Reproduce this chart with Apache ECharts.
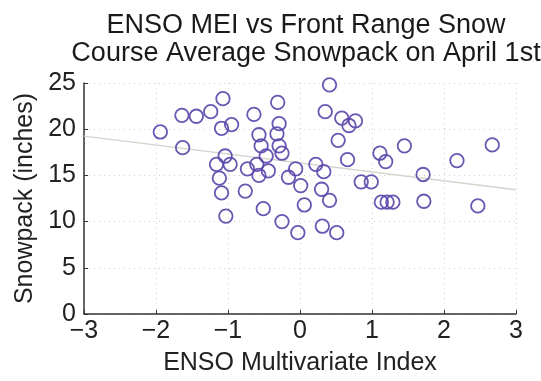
<!DOCTYPE html>
<html>
<head>
<meta charset="utf-8">
<script src="https://cdn.jsdelivr.net/npm/echarts@6/dist/echarts.min.js"></script>
<style>html,body{margin:0;padding:0;background:#fff;}#c{width:541px;height:381px;}</style>
</head>
<body>
<div id="c"></div>
<script>
const titleLines = ['ENSO MEI vs Front Range Snow', 'Course Average Snowpack on April 1st'];
const xAxisName = 'ENSO Multivariate Index';
const yAxisName = 'Snowpack (inches)';
const meiValues = [
  -1.94, -1.64, -1.44, -1.24, -1.07, -1.09, -0.95, -1.63, -1.04, -1.16, -1.12, -1.09, -1.03,
  0.41, -0.31, -0.64, 0.35, 0.58, 0.77, 0.68, -0.29, -0.57, -0.32, -0.54, -0.29, -0.47, -0.25,
  0.53, 0.66, -0.97, -0.73, -0.60, -0.57, -0.44, -0.16, -0.06, 0.22, 0.33, 0.01, 0.30, -0.76,
  0.85, 0.99, -0.51, -0.25, -0.03, 0.06, 0.41, 0.31, 0.51,
  1.45, 2.67, 1.11, 1.19, 2.18, 1.71, 1.13, 1.21, 1.29, 1.72, 2.47
];
const snowValues = [
  19.7, 21.5, 21.4, 21.9, 23.3, 20.1, 20.5, 18.0, 17.1, 16.2, 14.7, 13.1, 10.6,
  24.8, 22.9, 21.6, 21.9, 21.2, 20.9, 20.4, 20.6, 19.4, 19.5, 18.2, 18.2, 17.1, 17.4,
  18.8, 16.7, 16.2, 15.7, 16.2, 15.0, 15.5, 14.8, 15.7, 16.2, 15.4, 13.9, 13.5, 13.3,
  14.3, 14.3, 11.4, 10.0, 8.8, 11.8, 12.3, 9.5, 8.8,
  18.2, 18.3, 17.4, 16.5, 16.6, 15.1, 12.1, 12.1, 12.1, 12.2, 11.7
];
const fitX = [-3, 3];
const fitY = [19.25, 13.45];
const xTicks = [-3, -2, -1, 0, 1, 2, 3];
const yTicks = [0, 5, 10, 15, 20, 25];

const points = meiValues.map((x, i) => [x, snowValues[i]]);
const fitLine = fitX.map((x, i) => [x, fitY[i]]);
const font = 'Liberation Sans, Arial, sans-serif';

const chart = echarts.init(document.getElementById('c'), null, {renderer: 'canvas'});
chart.setOption({
  animation: false,
  backgroundColor: '#ffffff',
  title: {
    text: titleLines.join('\n'),
    left: 301, top: 7, textAlign: 'center',
    textStyle: {fontFamily: font, fontSize: 27, fontWeight: 'normal', color: '#1a1a1a', lineHeight: 28}
  },
  grid: {left: 84, right: 25, top: 83, bottom: 64, containLabel: false},
  xAxis: {
    type: 'value', min: xTicks[0], max: xTicks[xTicks.length - 1], interval: 1,
    name: xAxisName, nameLocation: 'middle', nameGap: 37,
    nameTextStyle: {fontFamily: font, fontSize: 25, color: '#222'},
    axisLine: {show: true, onZero: false, lineStyle: {color: '#333', width: 1.5}},
    axisTick: {show: true, inside: true, length: 4, lineStyle: {color: '#333'}},
    axisLabel: {fontFamily: font, fontSize: 25, color: '#222', margin: 5,
      formatter: v => (v < 0 ? '\u2212' + Math.abs(v) : String(v))},
    splitLine: {show: true, lineStyle: {color: '#cfcfcf', type: [1, 4], width: 1}}
  },
  yAxis: {
    type: 'value', min: yTicks[0], max: yTicks[yTicks.length - 1], interval: 5,
    name: yAxisName, nameLocation: 'middle', nameGap: 45, nameRotate: 90,
    nameTextStyle: {fontFamily: font, fontSize: 25, color: '#222'},
    axisLine: {show: true, onZero: false, lineStyle: {color: '#333', width: 1.5}},
    axisTick: {show: true, inside: true, length: 4, lineStyle: {color: '#333'}},
    axisLabel: {fontFamily: font, fontSize: 25, color: '#222', margin: 8},
    splitLine: {show: true, lineStyle: {color: '#cfcfcf', type: [1, 4], width: 1}}
  },
  series: [
    {
      type: 'line', data: fitLine, symbol: 'none', silent: true, z: 1,
      lineStyle: {color: '#d4d4cc', width: 1.5}
    },
    {
      type: 'scatter', data: points, symbol: 'circle', symbolSize: 13.5, z: 2,
      itemStyle: {color: 'rgba(255,255,255,0)', borderColor: '#5a45aa', borderWidth: 1.8, opacity: 0.9}
    }
  ]
});
</script>
</body>
</html>
